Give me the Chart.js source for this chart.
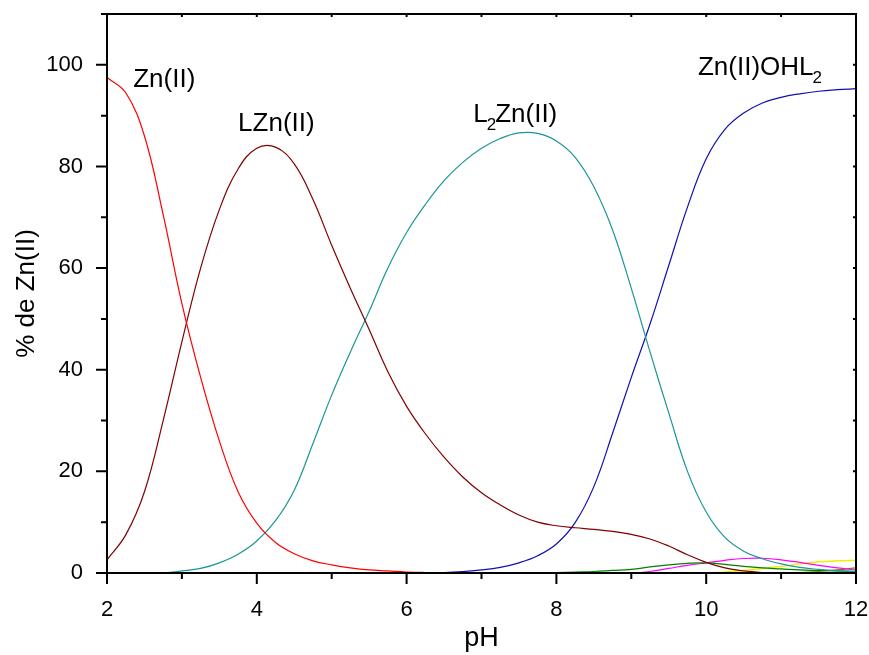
<!DOCTYPE html>
<html>
<head>
<meta charset="utf-8">
<script src="https://cdn.jsdelivr.net/npm/chart.js@4"></script>
<style>
  body { margin: 0; background: #fff; }
  #wrap { width: 869px; height: 655px; }
</style>
</head>
<body>
<div id="wrap"><canvas id="myChart" width="869" height="655"></canvas></div>
<script>
// pH grid (every 0.25 unit)
var PH = [2, 2.25, 2.5, 2.75, 3, 3.25, 3.5, 3.75, 4, 4.25, 4.5, 4.75, 5, 5.25, 5.5, 5.75,
          6, 6.25, 6.5, 6.75, 7, 7.25, 7.5, 7.75, 8, 8.25, 8.5, 8.75, 9, 9.25, 9.5, 9.75,
          10, 10.25, 10.5, 10.75, 11, 11.25, 11.5, 11.75, 12];

// % of Zn(II) for each species
var ZN = [97.5, 94.5, 86, 70.5, 53, 38.5, 26, 16, 9.8, 6.0, 3.8, 2.4, 1.6, 1.0, 0.6, 0.4,
          0.2, 0.1, 0.05, 0, 0, 0, 0, 0, 0, 0, 0, 0, 0, 0, 0, 0,
          0, 0, 0, 0, 0, 0, 0, 0, 0];
var LZN = [2.6, 7.5, 16, 30, 45.5, 60, 71.5, 79.5, 83.6, 83.8, 80.5, 73.5, 64.5, 56, 47.9, 39.6,
           32.8, 27.4, 22.8, 18.9, 15.8, 13.4, 11.4, 10.0, 9.3, 8.9, 8.6, 8.2, 7.6, 6.7, 5.3, 3.6,
           2.1, 1.0, 0.4, 0.1, 0, 0, 0, 0, 0];
var L2ZN = [0, 0, 0, 0.05, 0.4, 0.9, 2.0, 3.7, 6.3, 10.3, 16.3, 25.5, 35, 43.5, 51.5, 60,
            67, 72.5, 77.2, 80.8, 83.6, 85.5, 86.6, 86.5, 85, 81.8, 76, 67.5, 56, 43.5, 31.5, 20,
            12, 7, 4.3, 2.8, 1.8, 1.1, 0.7, 0.4, 0.3];
var ZNOHL2 = [0, 0, 0, 0, 0, 0, 0, 0, 0, 0, 0, 0, 0, 0, 0, 0,
              0, 0, 0.1, 0.3, 0.6, 1.1, 2.0, 3.4, 5.7, 9.9, 17, 27.5, 38.5, 49, 60.5, 72,
              81.5, 87.3, 90.5, 92.5, 93.6, 94.3, 94.8, 95.1, 95.3];
var GREEN = [0, 0, 0, 0, 0, 0, 0, 0, 0, 0, 0, 0, 0, 0, 0, 0,
             0, 0, 0, 0, 0, 0, 0, 0.05, 0.1, 0.2, 0.3, 0.5, 0.7, 1.2, 1.6, 1.9,
             2.0, 1.7, 1.3, 1.0, 0.8, 0.6, 0.5, 0.4, 0.3];
var MAGENTA = [0, 0, 0, 0, 0, 0, 0, 0, 0, 0, 0, 0, 0, 0, 0, 0,
               0, 0, 0, 0, 0, 0, 0, 0, 0, 0, 0, 0, 0, 0.3, 0.9, 1.5,
               2.0, 2.5, 2.85, 2.9, 2.6, 2.1, 1.5, 1.0, 0.6];
var YELLOW = [0, 0, 0, 0, 0, 0, 0, 0, 0, 0, 0, 0, 0, 0, 0, 0,
              0, 0, 0, 0, 0, 0, 0, 0, 0, 0, 0, 0, 0, 0, 0, 0,
              0, 0.2, 0.5, 0.9, 1.3, 1.8, 2.2, 2.4, 2.5];
var OLIVE = [0, 0, 0, 0, 0, 0, 0, 0, 0, 0, 0, 0, 0, 0, 0, 0,
             0, 0, 0, 0, 0, 0, 0, 0, 0, 0, 0, 0, 0, 0, 0, 0,
             0, 0, 0, 0, 0, 0.1, 0.3, 0.6, 1.0];
var ZERO = [0, 0, 0, 0, 0, 0, 0, 0, 0, 0, 0, 0, 0, 0, 0, 0,
            0, 0, 0, 0, 0, 0, 0, 0, 0, 0, 0, 0, 0, 0, 0, 0,
            0, 0, 0, 0, 0, 0, 0, 0, 0];

// curve labels: text, subscript, tail text, anchor pH, anchor %
var LABELS = [
  { pre: 'Zn(II)', sub: '', post: '', x: 2.35, y: 95.7 },
  { pre: 'LZn(II)', sub: '', post: '', x: 3.75, y: 87 },
  { pre: 'L', sub: '2', post: 'Zn(II)', x: 6.89, y: 88.8 },
  { pre: 'Zn(II)OHL', sub: '2', post: '', x: 9.89, y: 98 }
];

const FONT = 'Liberation Sans, Arial, sans-serif';

function series(vals, color, width)
{
  var pts = [];
  for (var i = 0; i < PH.length; ++i)
    pts.push({ x: PH[i], y: vals[i] });
  return {
    data: pts,
    borderColor: color,
    borderWidth: width || 1.2,
    pointRadius: 0,
    fill: false,
    tension: 0.4
  };
}

// box, ticks and curve labels
const frame = {
  id: 'frame',
  afterDatasetsDraw(chart) {
    const c = chart.ctx;
    const a = chart.chartArea;
    const xs = chart.scales.x, ys = chart.scales.y;
    c.save();
    c.strokeStyle = '#000';
    c.lineWidth = 2;
    c.strokeRect(a.left, a.top, a.right - a.left, a.bottom - a.top);
    c.beginPath();
    for (var v = 2; v <= 12; v += 1) {
      var px = xs.getPixelForValue(v);
      var len = (v % 2 == 0) ? 11 : 6;
      c.moveTo(px, a.bottom); c.lineTo(px, a.bottom + len);
      c.moveTo(px, a.top); c.lineTo(px, a.top + 3);
    }
    for (var w = 0; w <= 110; w += 10) {
      var py = ys.getPixelForValue(w);
      var l2 = (w % 20 == 0) ? 11 : 6;
      c.moveTo(a.left, py); c.lineTo(a.left - l2, py);
      c.moveTo(a.right, py); c.lineTo(a.right - 3, py);
    }
    c.stroke();

    c.fillStyle = '#000';
    c.textBaseline = 'alphabetic';
    for (var i = 0; i < LABELS.length; ++i) {
      var lb = LABELS[i];
      var x = xs.getPixelForValue(lb.x);
      var y = ys.getPixelForValue(lb.y);
      c.font = '26px ' + FONT;
      c.fillText(lb.pre, x, y);
      x += c.measureText(lb.pre).width;
      if (lb.sub) {
        c.font = '17px ' + FONT;
        c.fillText(lb.sub, x - 1, y + 8);
        x += c.measureText(lb.sub).width - 2;
      }
      if (lb.post) {
        c.font = '26px ' + FONT;
        c.fillText(lb.post, x, y);
      }
    }
    c.restore();
  }
};

const ctx = document.getElementById('myChart');
const myChart = new Chart(ctx, {
  type: 'line',
  data: {
    datasets: [
      series(ZN, '#ff0000'),
      series(LZN, '#800000'),
      series(L2ZN, '#1a9696'),
      series(ZNOHL2, '#1010b0'),
      series(GREEN, '#008000'),
      series(MAGENTA, '#ff00ff'),
      series(YELLOW, '#f0f000', 1.5),
      series(OLIVE, '#808000'),
      series(ZERO, '#a0522d', 2),
      series(ZERO, '#a0a0a0', 2)
    ]
  },
  options: {
    responsive: false,
    animation: false,
    layout: { padding: { top: 14, right: 13, left: 0, bottom: 0 } },
    plugins: { legend: { display: false }, tooltip: { enabled: false } },
    scales: {
      x: {
        type: 'linear',
        min: 2, max: 12,
        border: { display: false },
        grid: { display: false },
        ticks: {
          stepSize: 1,
          autoSkip: false,
          maxRotation: 0,
          padding: 16,
          color: '#000',
          font: { family: FONT, size: 22 },
          callback: function(v) { return v % 2 == 0 ? v : ''; }
        },
        title: {
          display: true,
          text: 'pH',
          color: '#000',
          font: { family: FONT, size: 27 },
          padding: 0
        },
        afterFit: function(scale) {
          scale.height = 82;
          scale.paddingLeft = 0;
          scale.paddingRight = 0;
        }
      },
      y: {
        min: 0, max: 110,
        border: { display: false },
        grid: { display: false },
        ticks: {
          stepSize: 10,
          autoSkip: false,
          padding: 16,
          color: '#000',
          font: { family: FONT, size: 22 },
          callback: function(v) { return (v % 20 == 0 && v <= 100) ? v : ''; }
        },
        title: {
          display: true,
          text: '% de Zn(II)',
          color: '#000',
          font: { family: FONT, size: 26 },
          padding: { top: 11, bottom: 11 }
        },
        afterFit: function(scale) {
          scale.width = 107;
          scale.paddingTop = 0;
          scale.paddingBottom = 0;
        }
      }
    }
  },
  plugins: [frame]
});
</script>
</body>
</html>
